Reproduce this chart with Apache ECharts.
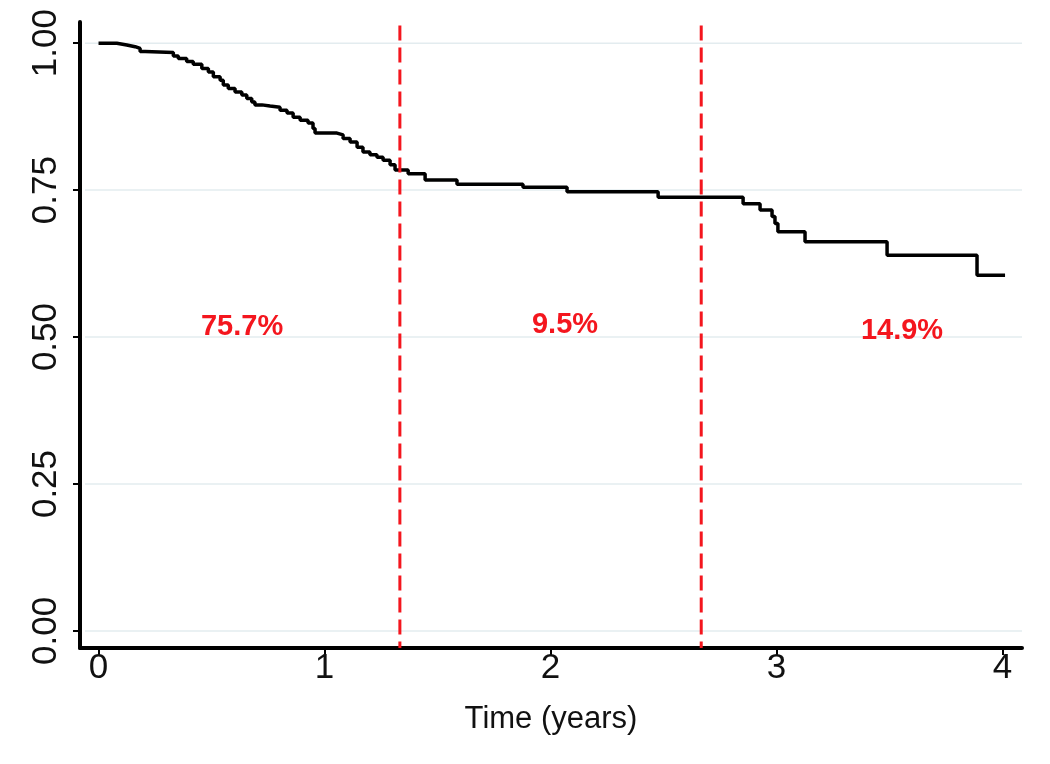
<!DOCTYPE html>
<html>
<head>
<meta charset="utf-8">
<script src="https://cdn.jsdelivr.net/npm/echarts@6/dist/echarts.min.js"></script>
<style>
html,body{margin:0;padding:0;background:#fff;}
#c{width:1050px;height:764px;}
</style>
</head>
<body>
<div id="c"></div>
<script>
// Kaplan-Meier step points: time (years) and survival after each step
const times = [0, 0.081, 0.125, 0.162, 0.184, 0.206, 0.331, 0.353, 0.390, 0.419, 0.457, 0.486, 0.508, 0.538, 0.552, 0.574, 0.604, 0.634, 0.656, 0.678, 0.692, 0.723, 0.759, 0.803, 0.834, 0.861, 0.892, 0.927, 0.949, 0.958, 1.055, 1.082, 1.113, 1.144, 1.170, 1.201, 1.232, 1.259, 1.290, 1.312, 1.370, 1.445, 1.586, 1.878, 2.073, 2.476, 2.852, 2.927, 2.980, 2.993, 3.006, 3.126, 3.489, 3.887, 4.011];
const survival = [1.000, 0.997, 0.994, 0.991, 0.986, 0.984, 0.978, 0.974, 0.969, 0.964, 0.957, 0.951, 0.943, 0.937, 0.929, 0.923, 0.917, 0.912, 0.906, 0.900, 0.895, 0.893, 0.891, 0.886, 0.881, 0.874, 0.869, 0.864, 0.855, 0.847, 0.844, 0.838, 0.832, 0.823, 0.815, 0.810, 0.806, 0.801, 0.793, 0.784, 0.778, 0.767, 0.760, 0.755, 0.747, 0.738, 0.727, 0.716, 0.705, 0.693, 0.679, 0.662, 0.639, 0.605, 0.605];
// tertile cut points (vertical dashed lines)
const cutTimes = [4/3, 8/3];
// percentage annotations: text, time, survival-level placement
const annoText = ['75.7%', '9.5%', '14.9%'];
const annoTime = [0.635, 2.064, 3.555];
const annoLevel = [0.517, 0.520, 0.510];
const xTicks = [0, 1, 2, 3, 4];
const yTicks = [0, 0.25, 0.5, 0.75, 1];

const font = 'Liberation Sans, Arial, Helvetica, sans-serif';
const red = '#f4161e';
const xMin = -0.082, xMax = 4.086, yMin = -0.029, yMax = 1.036;
const chart = echarts.init(document.getElementById('c'), null, {renderer: 'canvas'});
chart.setOption({
  backgroundColor: '#ffffff',
  animation: false,
  grid: {left: 80, right: 28, top: 22, bottom: 116, containLabel: false},
  xAxis: {
    type: 'value', min: xMin, max: xMax,
    name: 'Time (years)', nameLocation: 'middle', nameGap: 56,
    nameTextStyle: {fontSize: 31, color: '#111', fontFamily: font},
    axisLine: {show: true, onZero: false, lineStyle: {color: '#000', width: 4}},
    axisTick: {show: true, length: 7, customValues: xTicks, lineStyle: {color: '#000', width: 2}},
    axisLabel: {customValues: xTicks, fontSize: 35, color: '#111', fontFamily: font, margin: 3},
    splitLine: {show: false}
  },
  yAxis: {
    type: 'value', min: yMin, max: yMax,
    axisLine: {show: true, onZero: false, lineStyle: {color: '#000', width: 4}},
    axisTick: {show: true, length: 7, customValues: yTicks, lineStyle: {color: '#000', width: 2}},
    axisLabel: {customValues: yTicks, fontSize: 35, color: '#111', fontFamily: font, margin: 16, rotate: 90,
      formatter: v => v.toFixed(2)},
    splitLine: {show: false}
  },
  series: [
    {
      // light horizontal gridlines at y ticks
      type: 'custom', silent: true, z: 1,
      data: yTicks.map(v => [v]),
      encode: {y: 0},
      renderItem: (params, api) => {
        const v = api.value(0);
        const p1 = api.coord([-0.06, v]);
        const p2 = api.coord([xMax, v]);
        return {type: 'line', shape: {x1: p1[0], y1: p1[1], x2: p2[0], y2: p2[1]},
          style: {stroke: '#e3ecef', lineWidth: 1.5}};
      }
    },
    {
      type: 'line', step: 'end', showSymbol: false, symbol: 'none',
      data: times.map((t, i) => [t, survival[i]]),
      lineStyle: {color: '#000', width: 3.5},
      z: 3
    },
    {
      // vertical dashed cut lines
      type: 'custom', silent: true, z: 4,
      data: cutTimes.map(t => [t]),
      encode: {x: 0},
      renderItem: (params, api) => {
        const t = api.value(0);
        const p1 = api.coord([t, 1.03]);
        const p2 = api.coord([t, yMin]);
        return {type: 'line', shape: {x1: p1[0], y1: p1[1], x2: p2[0], y2: p2[1]},
          style: {stroke: red, lineWidth: 3, lineDash: [15, 7]}};
      }
    },
    {
      // percentage annotations
      type: 'custom', silent: true, z: 5,
      data: annoText.map((s, i) => [annoTime[i], annoLevel[i]]),
      encode: {x: 0, y: 1},
      renderItem: (params, api) => {
        const p = api.coord([api.value(0), api.value(1)]);
        return {type: 'text', x: p[0], y: p[1],
          style: {text: annoText[params.dataIndex], fill: red, font: 'bold 29px ' + font,
            align: 'center', verticalAlign: 'middle'}};
      }
    }
  ]
});
</script>
</body>
</html>
